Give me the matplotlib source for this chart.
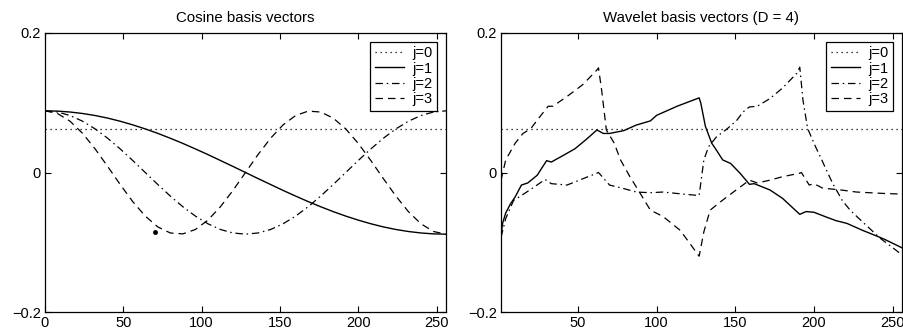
import numpy as np
import matplotlib
matplotlib.use("Agg")
import matplotlib.pyplot as plt

plt.rcParams["font.family"] = ["Liberation Sans", "DejaVu Sans"]

# cosine basis vectors, sampled every 8 points
cos_x = np.arange(0, 257, 8)
cos_j0 = 0.0625
cos_j1 = [0.0884, 0.0880, 0.0867, 0.0846, 0.0817, 0.0780, 0.0735, 0.0683, 0.0625,
          0.0561, 0.0491, 0.0417, 0.0338, 0.0257, 0.0172, 0.0087, 0.0, -0.0087,
          -0.0172, -0.0257, -0.0338, -0.0417, -0.0491, -0.0561, -0.0625, -0.0683,
          -0.0735, -0.0780, -0.0817, -0.0846, -0.0867, -0.0880, -0.0884]
cos_j2 = [0.0884, 0.0867, 0.0817, 0.0735, 0.0625, 0.0491, 0.0338, 0.0172, 0.0,
          -0.0172, -0.0338, -0.0491, -0.0625, -0.0735, -0.0817, -0.0867, -0.0884,
          -0.0867, -0.0817, -0.0735, -0.0625, -0.0491, -0.0338, -0.0172, 0.0,
          0.0172, 0.0338, 0.0491, 0.0625, 0.0735, 0.0817, 0.0867, 0.0884]
cos_j3 = [0.0884, 0.0846, 0.0735, 0.0561, 0.0338, 0.0087, -0.0172, -0.0417, -0.0625,
          -0.0780, -0.0867, -0.0880, -0.0817, -0.0683, -0.0491, -0.0257, 0.0,
          0.0257, 0.0491, 0.0683, 0.0817, 0.0880, 0.0867, 0.0780, 0.0625, 0.0417,
          0.0172, -0.0087, -0.0338, -0.0561, -0.0735, -0.0846, -0.0884]
stray_dot = (70, -0.0856)

# wavelet basis vectors (D = 4)
wav_j0 = 0.0625
wav_j1_x = [1, 2, 4, 7, 10, 14, 18, 24, 30, 33, 41, 48, 55, 62, 66, 70, 79, 87, 96, 100,
            113, 120, 127, 128, 131, 135, 138, 142, 147, 153, 159, 162, 172, 180, 191,
            195, 200, 208, 214, 221, 231, 242, 246, 256]
wav_j1_y = [-0.092, -0.073, -0.058, -0.045, -0.035, -0.018, -0.015, -0.004, 0.017, 0.015,
            0.025, 0.034, 0.047, 0.061, 0.056, 0.056, 0.060, 0.068, 0.074, 0.082,
            0.095, 0.101, 0.107, 0.100, 0.066, 0.042, 0.032, 0.018, 0.013, -0.001,
            -0.017, -0.016, -0.025, -0.037, -0.060, -0.056, -0.057, -0.064, -0.069,
            -0.073, -0.083, -0.093, -0.097, -0.108]
wav_j2_x = [1, 4, 9, 14, 22, 29, 33, 43, 53, 62, 63, 70, 79, 87, 96, 104, 117, 127, 130,
            133, 138, 145, 151, 155, 159, 164, 172, 180, 189, 191, 193, 196, 201, 205,
            208, 212, 218, 223, 231, 242, 256]
wav_j2_y = [-0.093, -0.066, -0.040, -0.033, -0.021, -0.010, -0.016, -0.018, -0.009,
            -0.001, 0.000, -0.018, -0.023, -0.028, -0.029, -0.028, -0.031, -0.033, 0.018,
            0.037, 0.051, 0.063, 0.075, 0.087, 0.094, 0.095, 0.106, 0.121, 0.142, 0.151,
            0.104, 0.063, 0.037, 0.018, 0.003, -0.016, -0.040, -0.054, -0.071, -0.094,
            -0.118]
wav_j3_x = [1, 4, 10, 15, 20, 24, 31, 34, 43, 53, 62, 63, 65, 68, 73, 77, 83, 89, 96, 104,
            115, 127, 130, 134, 140, 147, 153, 159, 164, 172, 180, 191, 192, 197, 200,
            206, 208, 217, 227, 244, 256]
wav_j3_y = [-0.011, 0.018, 0.042, 0.056, 0.063, 0.075, 0.095, 0.095, 0.109, 0.126,
            0.147, 0.150, 0.118, 0.061, 0.042, 0.018, -0.006, -0.028, -0.054, -0.063,
            -0.083, -0.120, -0.085, -0.054, -0.043, -0.031, -0.021, -0.011, -0.015,
            -0.011, -0.006, -0.001, 0.000, -0.018, -0.016, -0.023, -0.023, -0.025,
            -0.028, -0.030, -0.031]

labels = ["j=0", "j=1", "j=2", "j=3"]
styles = [
    dict(linestyle=(0, (1, 3)), linewidth=0.9),
    dict(linestyle="-", linewidth=1.0),
    dict(linestyle=(0, (6, 3, 1.2, 3)), linewidth=0.9),
    dict(linestyle=(0, (6, 4)), linewidth=0.9),
]

fig = plt.figure(figsize=(9.04, 3.36), dpi=100)
ax1 = fig.add_axes([45 / 904, 24 / 336, 401 / 904, 279 / 336])
ax2 = fig.add_axes([501 / 904, 24 / 336, 401 / 904, 279 / 336])

# left: cosine
ax1.plot([0, 256], [cos_j0, cos_j0], color="black", label=labels[0], **styles[0])
ax1.plot(cos_x, cos_j1, color="black", label=labels[1], **styles[1])
ax1.plot(cos_x, cos_j2, color="black", label=labels[2], **styles[2])
ax1.plot(cos_x, cos_j3, color="black", label=labels[3], **styles[3])
ax1.plot(*stray_dot, "o", color="black", markersize=2.5)
ax1.set_xlim(0, 256)
ax1.set_xticks([0, 50, 100, 150, 200, 250])
ax1.set_title("Cosine basis vectors", fontsize=10.8, pad=8)

# right: wavelet
ax2.plot([1, 256], [wav_j0, wav_j0], color="black", label=labels[0], **styles[0])
ax2.plot(wav_j1_x, wav_j1_y, color="black", label=labels[1], **styles[1])
ax2.plot(wav_j2_x, wav_j2_y, color="black", label=labels[2], **styles[2])
ax2.plot(wav_j3_x, wav_j3_y, color="black", label=labels[3], **styles[3])
ax2.set_xlim(1, 256)
ax2.set_xticks([50, 100, 150, 200, 250])
ax2.set_title("Wavelet basis vectors (D = 4)", fontsize=10.8, pad=8)

for ax in (ax1, ax2):
    ax.set_ylim(-0.2, 0.2)
    ax.set_yticks([-0.2, 0, 0.2])
    ax.set_yticklabels(["\u22120.2", "0", "0.2"])
    ax.tick_params(direction="in", top=True, right=True, length=4, width=0.8,
                   labelsize=10.5, pad=3)
    for sp in ax.spines.values():
        sp.set_linewidth(0.9)
    leg = ax.legend(loc="upper right", fontsize=10.5, handlelength=2.0,
                    handletextpad=0.6, borderpad=0.3, labelspacing=0.1,
                    fancybox=False, framealpha=1, edgecolor="black",
                    borderaxespad=0.6)
    leg.get_frame().set_linewidth(0.9)

fig.savefig("out.png", dpi=100)
